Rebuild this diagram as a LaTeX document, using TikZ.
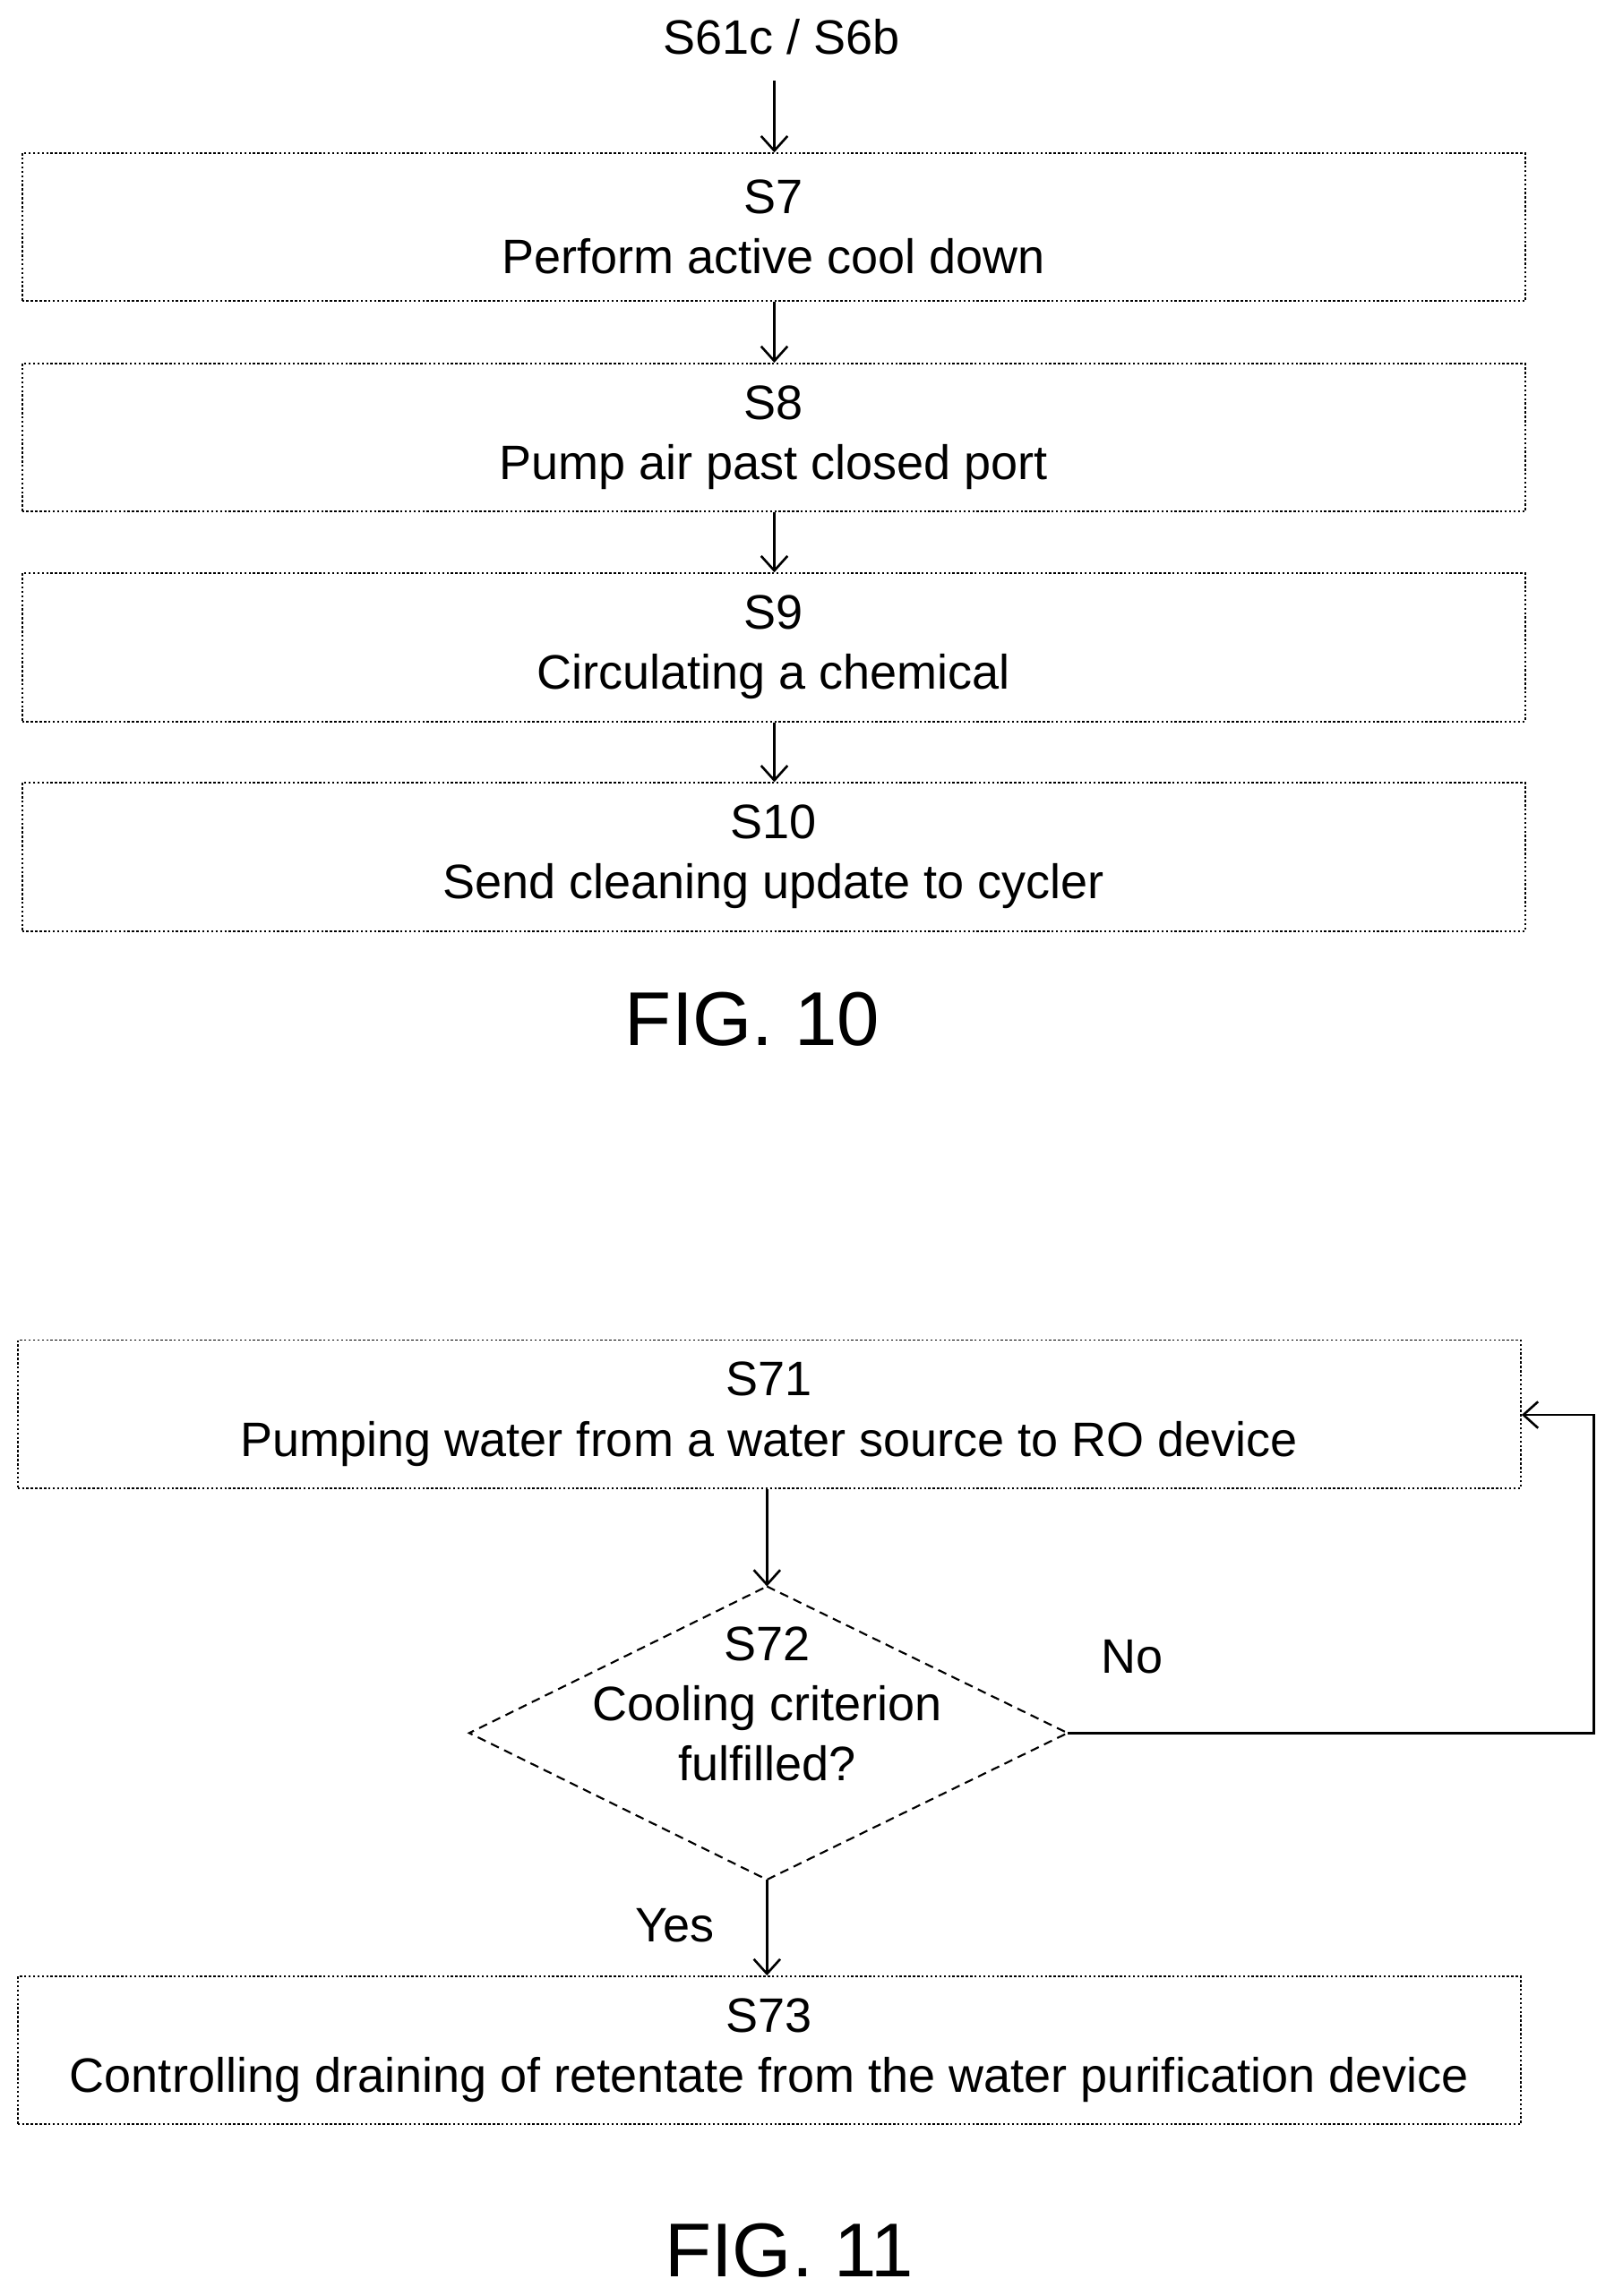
\documentclass[tikz,border=0pt]{standalone}
\usepackage{fontspec}
\setmainfont{Liberation Sans}
\usetikzlibrary{arrows.meta}
\begin{document}
\begin{tikzpicture}[x=1pt,y=-1pt,
  box/.style={draw,line width=1.2pt,dash pattern=on 1.5pt off 1.5pt,minimum width=1025pt,minimum height=101pt,inner sep=0pt,align=center,font=\fontsize{33}{41}\selectfont},
  arr/.style={line width=1.6pt,-{Straight Barb[length=10pt,width=18pt]}},
  lbl/.style={font=\fontsize{33}{38}\selectfont},
  fig/.style={font=\fontsize{52}{60}\selectfont}]
\useasboundingbox (0,0) rectangle (1100,1566);
\node[lbl] (top) at (533,25) {S61c / S6b};
\node[box] (s7) at (527.5,155) {S7\\Perform active cool down};
\node[box] (s8) at (527.5,298.5) {S8\\Pump air past closed port};
\node[box] (s9) at (527.5,441.5) {S9\\Circulating a chemical};
\node[box] (s10) at (527.5,584.5) {S10\\Send cleaning update to cycler};
\draw[arr] (528,55) -- (528,104);
\draw[arr] (s7.south -| 528,0) -- (s8.north -| 528,0);
\draw[arr] (s8.south -| 528,0) -- (s9.north -| 528,0);
\draw[arr] (s9.south -| 528,0) -- (s10.north -| 528,0);
\node[fig] (f10) at (513,695) {FIG. 10};
\node[box] (s71) at (524.5,964.5) {S71\\Pumping water from a water source to RO device};
\coordinate (dt) at (523,1082);
\coordinate (dl) at (320,1182);
\coordinate (dr) at (728,1182);
\coordinate (db) at (523,1282);
\draw[line width=1.3pt,dash pattern=on 6pt off 4pt] (dt) -- (dr) -- (db) -- (dl) -- cycle;
\node[align=center,font=\fontsize{33}{41}\selectfont] (s72) at (523,1162) {S72\\Cooling criterion\\fulfilled?};
\draw[arr] (s71.south -| 523,0) -- (dt);
\coordinate (c1) at (1087,1182);
\coordinate (c2) at (1087,965);
\draw[arr] (dr) -- (c1) -- (c2) -- (s71.east |- c2);
\node[lbl] (no) at (772,1130) {No};
\node[lbl] (yes) at (460,1313) {Yes};
\node[box] (s73) at (524.5,1398.5) {S73\\Controlling draining of retentate from the water purification device};
\draw[arr] (db) -- (s73.north -| 523,0);
\node[fig] (f11) at (538,1535) {FIG. 11};
\end{tikzpicture}
\end{document}
